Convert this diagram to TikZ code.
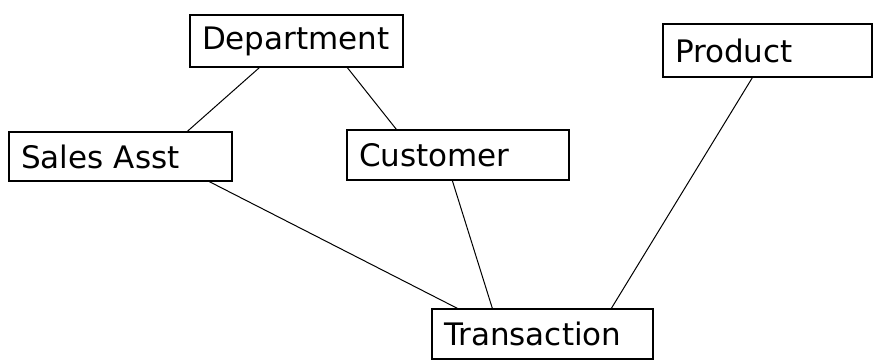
\documentclass[tikz,border=0pt]{standalone}
\usepackage{fontspec}
\setmainfont{DejaVu Sans}
\begin{document}
\begin{tikzpicture}[x=1pt,y=-1pt,
  entity/.style={draw=black, line width=1.3pt, fill=white, rectangle,
    inner xsep=12pt, inner ysep=0pt, align=left,
    font=\fontsize{31}{33}\selectfont},
  link/.style={draw=black, line width=1pt}]
  \useasboundingbox (0,0) rectangle (874,360);
  % entity boxes: centre, width and height
  \node[entity, minimum width=213pt, minimum height=52pt, text width=189pt] (dept) at (296.5,41) {Department};
  \node[entity, minimum width=209pt, minimum height=53pt, text width=185pt] (prod) at (767.5,50.5) {Product};
  \node[entity, minimum width=223pt, minimum height=49pt, text width=199pt] (sales) at (120.5,156.5) {Sales Asst};
  \node[entity, minimum width=222pt, minimum height=50pt, text width=198pt] (cust) at (458,155) {Customer};
  \node[entity, minimum width=221pt, minimum height=50pt, text width=197pt] (trans) at (542.5,334) {Transaction};
  % relationships
  \draw[link] ([xshift=70pt]dept.south west) -- ([xshift=179pt]sales.north west);
  \draw[link] ([xshift=158pt]dept.south west) -- ([xshift=50pt]cust.north west);
  \draw[link] ([xshift=201pt]sales.south west) -- ([xshift=26pt]trans.north west);
  \draw[link] ([xshift=106pt]cust.south west) -- ([xshift=61pt]trans.north west);
  \draw[link] ([xshift=90pt]prod.south west) -- ([xshift=180pt]trans.north west);
\end{tikzpicture}
\end{document}
